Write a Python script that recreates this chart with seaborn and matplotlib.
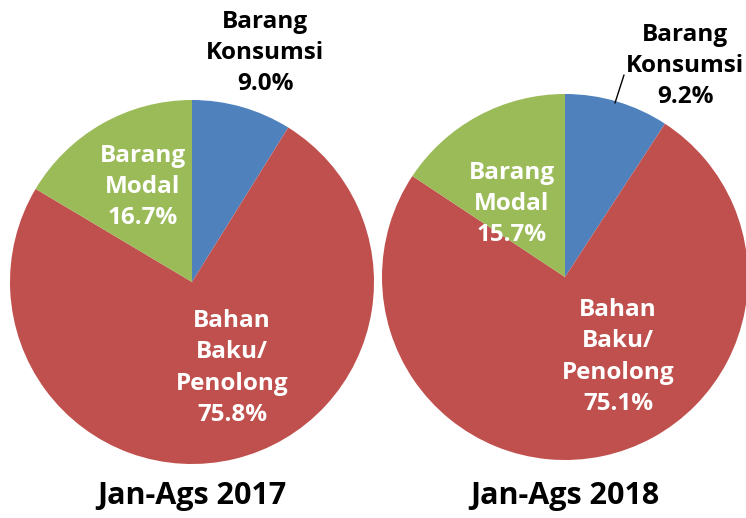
import matplotlib.pyplot as plt
import seaborn as sns

# data
kategori = ["Barang\nKonsumsi", "Bahan\nBaku/\nPenolong", "Barang\nModal"]
nilai_2017 = [9.0, 75.8, 16.7]
nilai_2018 = [9.2, 75.1, 15.7]
judul = ["Jan-Ags 2017", "Jan-Ags 2018"]

sns.set_theme(style="white")
plt.rcParams['font.family'] = ['Open Sans', 'DejaVu Sans']
warna = ["#4F81BD", "#C0504D", "#9BBB59"]

W, H = 746, 518
fig = plt.figure(figsize=(W / 100, H / 100), dpi=100)
ax = fig.add_axes([0, 0, 1, 1])

# posisi pie (piksel): pusat x, pusat y, jari-jari
pie_pos = [(192, 282, 182), (565, 277, 183)]
# posisi label (piksel)
pos_label = [
    [(265, 53, "k"), (232, 368, "w"), (143, 187, "w")],
    [(685, 66, "k"), (618, 357, "w"), (512, 204, "w")],
]

for i, nilai in enumerate([nilai_2017, nilai_2018]):
    cx, cy, r = pie_pos[i]
    ax.pie(nilai, colors=warna, startangle=90, counterclock=False,
           center=(cx, H - cy), radius=r, wedgeprops=dict(linewidth=0))
    for j, (lx, ly, c) in enumerate(pos_label[i]):
        ax.text(lx, H - ly, f"{kategori[j]}\n{nilai[j]:.1f}%", ha="center", va="center",
                fontsize=17.5, fontweight="bold", color="black" if c == "k" else "white",
                linespacing=1.4)
    ax.text(cx, H - 496, judul[i], ha="center", va="center",
            fontsize=22, fontweight="bold", color="black")

# garis penunjuk untuk Barang Konsumsi 2018
ax.plot([615, 624], [H - 103, H - 75], color="black", linewidth=1)

ax.set_xlim(0, W)
ax.set_ylim(0, H)
ax.set_aspect("equal")
ax.axis("off")

fig.savefig("out.png", dpi=100)
